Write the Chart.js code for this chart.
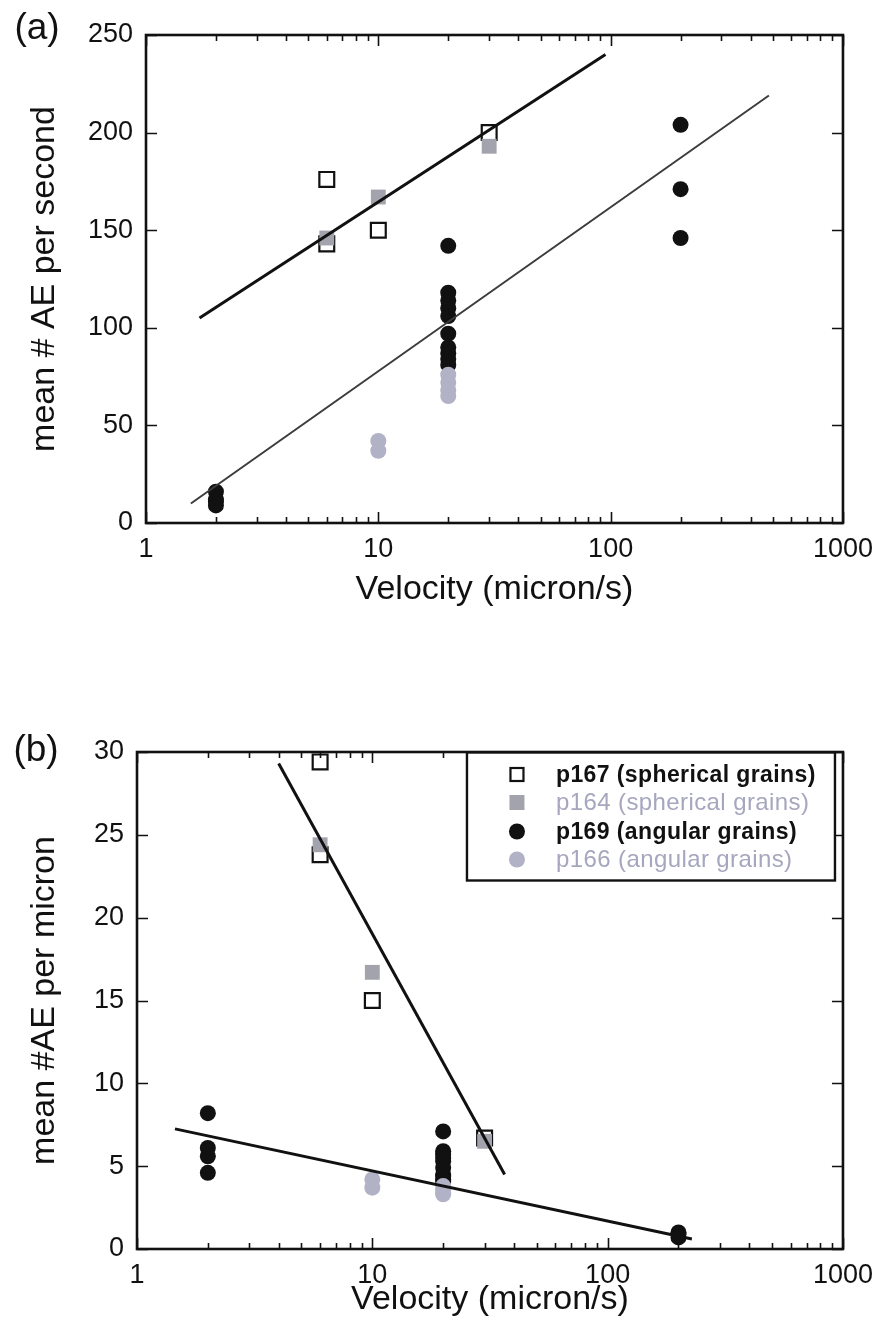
<!DOCTYPE html>
<html>
<head>
<meta charset="utf-8">
<script src="https://cdn.jsdelivr.net/npm/chart.js@4.4.1/dist/chart.umd.min.js"></script>
<style>
  body { margin: 0; background: #fff; }
  canvas { position: absolute; left: 0; }
  #chartA { top: 0; }
  #chartB { top: 640px; }
</style>
</head>
<body>
<canvas id="chartA" width="883" height="640"></canvas>
<canvas id="chartB" width="883" height="690"></canvas>
<script>
// tick labels
const velocityTicks = [1, 10, 100, 1000];
const perSecondTicks = [0, 50, 100, 150, 200, 250];
const perMicronTicks = [0, 5, 10, 15, 20, 25, 30];

const seriesNames = [
    "p167 (spherical grains)",
    "p164 (spherical grains)",
    "p169 (angular grains)",
    "p166 (angular grains)"
];

// (a) mean # AE per second
const p167VelA = [6, 6, 10, 30];
const p167RateA = [176, 143, 150, 200];
const p164VelA = [6, 10, 30];
const p164RateA = [146, 167, 193];
const p169VelA = [2, 2, 2, 2, 20, 20, 20, 20, 20, 20, 20, 20, 20, 20, 200, 200, 200];
const p169RateA = [16, 12, 11, 9, 142, 118, 114, 110, 106, 97, 90, 87, 84, 81, 204, 171, 146];
const p166VelA = [10, 10, 20, 20, 20, 20];
const p166RateA = [42, 37, 76, 72, 68, 65];
// fitted lines, end points
const fitSphericalVelA = [1.7, 95];
const fitSphericalRateA = [105, 240];
const fitAngularVelA = [1.56, 480];
const fitAngularRateA = [10, 219];

// (b) mean #AE per micron
const p167VelB = [6, 6, 10, 30];
const p167RateB = [29.4, 23.8, 15.0, 6.7];
const p164VelB = [6, 10, 30];
const p164RateB = [24.4, 16.7, 6.5];
const p169VelB = [2, 2, 2, 2, 20, 20, 20, 20, 20, 20, 20, 20, 20, 20, 200, 200, 200];
const p169RateB = [8.2, 6.1, 5.6, 4.6, 7.1, 5.9, 5.7, 5.5, 5.3, 4.9, 4.5, 4.4, 4.2, 4.1, 1.0, 0.9, 0.7];
const p166VelB = [10, 10, 20, 20, 20, 20];
const p166RateB = [4.2, 3.7, 3.8, 3.6, 3.4, 3.3];
const fitSphericalVelB = [4.0, 36.5];
const fitSphericalRateB = [29.3, 4.5];
const fitAngularVelB = [1.45, 228];
const fitAngularRateB = [7.25, 0.6];

const FONT = "'Liberation Sans', Arial, Helvetica, sans-serif";
const INK = "#111";
const GREY_SQUARE = "#a3a3ae";
const GREY_DOT = "#b2b2c6";
const GREY_TEXT = "#a6a6bf";

function pts(xs, ys) {
    return xs.map((x, i) => ({ x: x, y: ys[i] }));
}

function fitLine(xs, ys, color, width) {
    return {
        data: pts(xs, ys),
        showLine: true,
        borderColor: color,
        borderWidth: width,
        pointRadius: 0,
        fill: false
    };
}

function squares(xs, ys, open) {
    return {
        data: pts(xs, ys),
        pointStyle: "rect",
        pointRadius: 10.5,
        backgroundColor: open ? "rgba(0,0,0,0)" : GREY_SQUARE,
        borderColor: open ? INK : GREY_SQUARE,
        borderWidth: open ? 2.2 : 0
    };
}

function dots(xs, ys, color) {
    return {
        data: pts(xs, ys),
        pointStyle: "circle",
        pointRadius: 8,
        backgroundColor: color,
        borderColor: color,
        borderWidth: 0
    };
}

// frame with inward ticks on all four sides
const frameTicks = {
    id: "frameTicks",
    afterDatasetsDraw(chart) {
        const { ctx, chartArea: a, scales: { x, y } } = chart;
        ctx.save();
        ctx.strokeStyle = INK;
        ctx.lineWidth = 1.6;
        ctx.beginPath();
        for (let d = 1; d < 1000; d *= 10) {
            for (let m = 1; m <= 10; m++) {
                const px = Math.round(x.getPixelForValue(d * m)) + 0.5;
                const len = (m === 1 || m === 10) ? 11 : 6;
                ctx.moveTo(px, a.bottom); ctx.lineTo(px, a.bottom - len);
                ctx.moveTo(px, a.top); ctx.lineTo(px, a.top + len);
            }
        }
        y.ticks.forEach(t => {
            const py = Math.round(y.getPixelForValue(t.value)) + 0.5;
            ctx.moveTo(a.left, py); ctx.lineTo(a.left + 11, py);
            ctx.moveTo(a.right, py); ctx.lineTo(a.right - 11, py);
        });
        ctx.stroke();
        ctx.lineWidth = 2.6;
        ctx.strokeRect(a.left, a.top, a.right - a.left, a.bottom - a.top);
        ctx.restore();
    }
};

const panelTag = {
    id: "panelTag",
    afterDraw(chart, args, opts) {
        const ctx = chart.ctx;
        ctx.save();
        ctx.font = "37px " + FONT;
        ctx.fillStyle = INK;
        ctx.textAlign = "center";
        ctx.textBaseline = "middle";
        ctx.fillText(opts.text, opts.x, opts.y);
        ctx.restore();
    }
};

// boxed legend in the upper right of panel (b)
const boxLegend = {
    id: "boxLegend",
    afterDraw(chart, args, opts) {
        if (!opts.show) return;
        const { ctx, chartArea: a } = chart;
        const w = 368, h = 128;
        const left = a.right - 8 - w, top = a.top + 0.5;
        ctx.save();
        ctx.fillStyle = "#fff";
        ctx.fillRect(left, top, w, h);
        ctx.strokeStyle = INK;
        ctx.lineWidth = 2.4;
        ctx.strokeRect(left, top, w, h);
        const rows = [22, 50, 79, 107];
        const mx = left + 50, tx = left + 89;
        rows.forEach((dy, i) => {
            const cy = top + dy;
            if (i === 0) {
                ctx.strokeStyle = INK; ctx.lineWidth = 2.2;
                ctx.strokeRect(mx - 6.5, cy - 6.5, 13, 13);
            } else if (i === 1) {
                ctx.fillStyle = GREY_SQUARE;
                ctx.fillRect(mx - 7.5, cy - 7.5, 15, 15);
            } else {
                ctx.fillStyle = i === 2 ? INK : GREY_DOT;
                ctx.beginPath(); ctx.arc(mx, cy, 8, 0, Math.PI * 2); ctx.fill();
            }
            const bold = i % 2 === 0;
            ctx.font = (bold ? "bold 23px " : "24px ") + FONT;
            ctx.letterSpacing = "0.4px";
            ctx.fillStyle = bold ? INK : GREY_TEXT;
            ctx.textAlign = "left";
            ctx.textBaseline = "middle";
            ctx.fillText(seriesNames[i], tx, cy + 1);
        });
        ctx.restore();
    }
};

function makeChart(id, cfg) {
    const tickFont = { family: FONT, size: 27 };
    const titleFont = { family: FONT, size: 34 };
    new Chart(document.getElementById(id), {
        type: "scatter",
        data: { datasets: cfg.datasets },
        options: {
            responsive: false,
            animation: false,
            events: [],
            layout: { padding: cfg.padding },
            plugins: {
                legend: { display: false },
                tooltip: { enabled: false },
                panelTag: cfg.tag,
                boxLegend: { show: cfg.legend }
            },
            scales: {
                x: {
                    type: "logarithmic",
                    min: 1,
                    max: 1000,
                    afterBuildTicks: s => { s.ticks = velocityTicks.map(v => ({ value: v })); },
                    afterFit: s => { s.height = cfg.xHeight; },
                    ticks: {
                        callback: v => String(v),
                        font: tickFont, color: INK, padding: 10,
                        autoSkip: false, maxRotation: 0
                    },
                    grid: { display: false, drawTicks: false },
                    border: { display: false },
                    title: { display: true, text: "Velocity (micron/s)", font: titleFont, color: INK, padding: 0 }
                },
                y: {
                    type: "linear",
                    min: cfg.yTicks[0],
                    max: cfg.yTicks[cfg.yTicks.length - 1],
                    afterBuildTicks: s => { s.ticks = cfg.yTicks.map(v => ({ value: v })); },
                    afterFit: s => { s.width = cfg.yWidth; },
                    ticks: { font: tickFont, color: INK, padding: 13 },
                    grid: { display: false, drawTicks: false },
                    border: { display: false },
                    title: { display: true, text: cfg.yTitle, font: titleFont, color: INK, padding: 0 }
                }
            }
        },
        plugins: [frameTicks, panelTag, boxLegend]
    });
}

// first dataset is painted last, so the fits and grey marks sit on top
makeChart("chartA", {
    datasets: [
        fitLine(fitSphericalVelA, fitSphericalRateA, INK, 3),
        fitLine(fitAngularVelA, fitAngularRateA, "#3c3c3c", 2),
        squares(p164VelA, p164RateA, false),
        squares(p167VelA, p167RateA, true),
        dots(p166VelA, p166RateA, GREY_DOT),
        dots(p169VelA, p169RateA, INK)
    ],
    yTicks: perSecondTicks,
    yTitle: "mean # AE per second",
    padding: { left: 24, top: 35, right: 40, bottom: 30 },
    yWidth: 122,
    xHeight: 87,
    tag: { text: "(a)", x: 37, y: 29 },
    legend: false
});

makeChart("chartB", {
    datasets: [
        fitLine(fitSphericalVelB, fitSphericalRateB, INK, 3),
        fitLine(fitAngularVelB, fitAngularRateB, INK, 3),
        squares(p164VelB, p164RateB, false),
        squares(p167VelB, p167RateB, true),
        dots(p166VelB, p166RateB, GREY_DOT),
        dots(p169VelB, p169RateB, INK)
    ],
    yTicks: perMicronTicks,
    yTitle: "mean #AE per micron",
    padding: { left: 24, top: 112, right: 35, bottom: 10 },
    yWidth: 113,
    xHeight: 71,
    tag: { text: "(b)", x: 36, y: 111 },
    legend: true
});
</script>
</body>
</html>
